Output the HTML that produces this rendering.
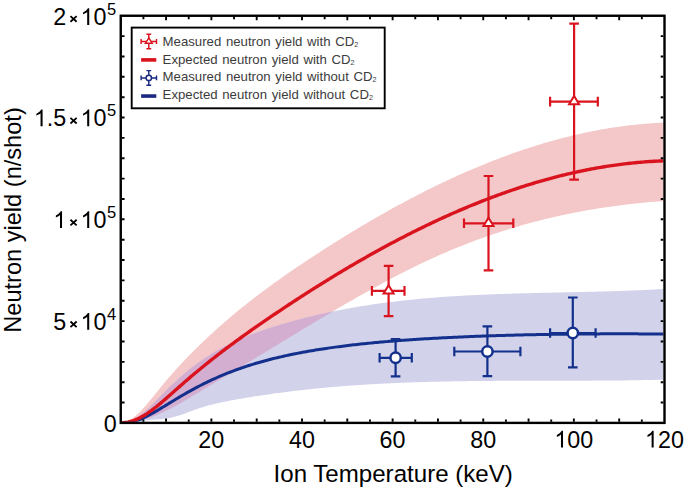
<!DOCTYPE html>
<html><head><meta charset="utf-8"><style>
html,body{margin:0;padding:0;background:#fff;width:685px;height:489px;overflow:hidden}
svg{display:block}
text{font-family:"Liberation Sans",sans-serif}
</style></head><body>
<svg width="685" height="489" viewBox="0 0 685 489"><defs><clipPath id="pc"><rect x="121.9" y="16.9" width="541.4" height="404.9"/></clipPath><clipPath id="rb"><path d="M120.75,422.63 L122.57,422.48 L124.39,422.12 L126.21,421.55 L128.02,420.79 L129.84,419.84 L131.66,418.72 L133.48,417.43 L135.30,416.00 L137.12,414.44 L138.94,412.75 L140.75,410.95 L142.57,409.04 L144.39,407.05 L146.21,404.99 L148.03,402.86 L149.85,400.68 L151.67,398.46 L153.48,396.21 L155.30,393.94 L157.12,391.67 L158.94,389.41 L160.76,387.17 L162.58,384.95 L164.40,382.77 L166.21,380.61 L168.03,378.48 L169.85,376.38 L171.67,374.30 L173.49,372.24 L175.31,370.21 L177.13,368.21 L178.94,366.22 L180.76,364.26 L182.58,362.32 L184.40,360.40 L186.22,358.50 L188.04,356.62 L189.86,354.76 L191.67,352.92 L193.49,351.10 L195.31,349.29 L197.13,347.49 L198.95,345.72 L200.77,343.96 L202.59,342.21 L204.40,340.48 L206.22,338.76 L208.04,337.05 L209.86,335.36 L211.68,333.69 L213.50,332.02 L215.32,330.37 L217.13,328.74 L218.95,327.11 L220.77,325.50 L222.59,323.90 L224.41,322.32 L226.23,320.75 L228.05,319.19 L229.86,317.64 L231.68,316.10 L233.50,314.57 L235.32,313.06 L237.14,311.56 L238.96,310.07 L240.78,308.59 L242.59,307.12 L244.41,305.66 L246.23,304.21 L248.05,302.77 L249.87,301.34 L251.69,299.92 L253.51,298.51 L255.32,297.11 L257.14,295.72 L258.96,294.34 L260.78,292.96 L262.60,291.60 L264.42,290.24 L266.23,288.90 L268.05,287.56 L269.87,286.23 L271.69,284.90 L273.51,283.59 L275.33,282.28 L277.15,280.98 L278.96,279.69 L280.78,278.40 L282.60,277.12 L284.42,275.85 L286.24,274.58 L288.06,273.32 L289.88,272.06 L291.69,270.81 L293.51,269.57 L295.33,268.33 L297.15,267.10 L298.97,265.87 L300.79,264.65 L302.61,263.43 L304.42,262.22 L306.24,261.01 L308.06,259.80 L309.88,258.60 L311.70,257.41 L313.52,256.21 L315.34,255.02 L317.15,253.84 L318.97,252.66 L320.79,251.48 L322.61,250.31 L324.43,249.14 L326.25,247.97 L328.07,246.81 L329.88,245.65 L331.70,244.50 L333.52,243.35 L335.34,242.21 L337.16,241.06 L338.98,239.93 L340.80,238.79 L342.61,237.67 L344.43,236.54 L346.25,235.42 L348.07,234.31 L349.89,233.19 L351.71,232.09 L353.53,230.98 L355.34,229.89 L357.16,228.79 L358.98,227.70 L360.80,226.62 L362.62,225.53 L364.44,224.46 L366.26,223.38 L368.07,222.32 L369.89,221.25 L371.71,220.19 L373.53,219.14 L375.35,218.09 L377.17,217.04 L378.99,216.00 L380.80,214.97 L382.62,213.94 L384.44,212.91 L386.26,211.89 L388.08,210.87 L389.90,209.86 L391.72,208.85 L393.53,207.85 L395.35,206.85 L397.17,205.85 L398.99,204.86 L400.81,203.88 L402.63,202.90 L404.45,201.93 L406.26,200.96 L408.08,199.99 L409.90,199.03 L411.72,198.08 L413.54,197.13 L415.36,196.18 L417.18,195.24 L418.99,194.31 L420.81,193.38 L422.63,192.45 L424.45,191.53 L426.27,190.62 L428.09,189.71 L429.91,188.80 L431.72,187.90 L433.54,187.01 L435.36,186.12 L437.18,185.24 L439.00,184.36 L440.82,183.49 L442.64,182.62 L444.45,181.76 L446.27,180.90 L448.09,180.05 L449.91,179.20 L451.73,178.36 L453.55,177.52 L455.37,176.69 L457.18,175.87 L459.00,175.05 L460.82,174.24 L462.64,173.43 L464.46,172.62 L466.28,171.83 L468.10,171.04 L469.91,170.25 L471.73,169.47 L473.55,168.69 L475.37,167.92 L477.19,167.16 L479.01,166.40 L480.83,165.65 L482.64,164.90 L484.46,164.16 L486.28,163.43 L488.10,162.70 L489.92,161.98 L491.74,161.26 L493.56,160.55 L495.37,159.84 L497.19,159.14 L499.01,158.45 L500.83,157.76 L502.65,157.08 L504.47,156.40 L506.29,155.73 L508.10,155.07 L509.92,154.41 L511.74,153.76 L513.56,153.11 L515.38,152.47 L517.20,151.84 L519.02,151.21 L520.83,150.59 L522.65,149.97 L524.47,149.36 L526.29,148.76 L528.11,148.16 L529.93,147.57 L531.74,146.99 L533.56,146.41 L535.38,145.84 L537.20,145.27 L539.02,144.71 L540.84,144.16 L542.66,143.61 L544.47,143.07 L546.29,142.54 L548.11,142.01 L549.93,141.49 L551.75,140.98 L553.57,140.47 L555.39,139.97 L557.20,139.47 L559.02,138.99 L560.84,138.51 L562.66,138.03 L564.48,137.56 L566.30,137.10 L568.12,136.65 L569.93,136.20 L571.75,135.76 L573.57,135.32 L575.39,134.89 L577.21,134.47 L579.03,134.06 L580.85,133.65 L582.66,133.25 L584.48,132.86 L586.30,132.47 L588.12,132.09 L589.94,131.72 L591.76,131.35 L593.58,130.99 L595.39,130.64 L597.21,130.29 L599.03,129.95 L600.85,129.62 L602.67,129.30 L604.49,128.98 L606.31,128.67 L608.12,128.37 L609.94,128.07 L611.76,127.78 L613.58,127.50 L615.40,127.23 L617.22,126.96 L619.04,126.70 L620.85,126.45 L622.67,126.20 L624.49,125.97 L626.31,125.73 L628.13,125.51 L629.95,125.30 L631.77,125.09 L633.58,124.89 L635.40,124.69 L637.22,124.50 L639.04,124.33 L640.86,124.15 L642.68,123.99 L644.50,123.83 L646.31,123.68 L648.13,123.54 L649.95,123.41 L651.77,123.28 L653.59,123.16 L655.41,123.05 L657.23,122.95 L659.04,122.85 L660.86,122.77 L662.68,122.69 L664.50,122.61 L664.50,201.02 L662.68,201.14 L660.86,201.27 L659.04,201.40 L657.23,201.53 L655.41,201.67 L653.59,201.81 L651.77,201.96 L649.95,202.12 L648.13,202.27 L646.31,202.44 L644.50,202.60 L642.68,202.77 L640.86,202.95 L639.04,203.13 L637.22,203.31 L635.40,203.50 L633.58,203.70 L631.77,203.90 L629.95,204.10 L628.13,204.31 L626.31,204.52 L624.49,204.74 L622.67,204.96 L620.85,205.19 L619.04,205.42 L617.22,205.66 L615.40,205.90 L613.58,206.15 L611.76,206.40 L609.94,206.65 L608.12,206.92 L606.31,207.18 L604.49,207.45 L602.67,207.73 L600.85,208.01 L599.03,208.30 L597.21,208.59 L595.39,208.88 L593.58,209.18 L591.76,209.49 L589.94,209.80 L588.12,210.12 L586.30,210.44 L584.48,210.77 L582.66,211.10 L580.85,211.44 L579.03,211.78 L577.21,212.13 L575.39,212.48 L573.57,212.84 L571.75,213.20 L569.93,213.57 L568.12,213.94 L566.30,214.32 L564.48,214.71 L562.66,215.10 L560.84,215.49 L559.02,215.90 L557.20,216.30 L555.39,216.71 L553.57,217.13 L551.75,217.55 L549.93,217.98 L548.11,218.42 L546.29,218.86 L544.47,219.30 L542.66,219.75 L540.84,220.21 L539.02,220.67 L537.20,221.14 L535.38,221.61 L533.56,222.09 L531.74,222.58 L529.93,223.07 L528.11,223.56 L526.29,224.06 L524.47,224.57 L522.65,225.09 L520.83,225.60 L519.02,226.13 L517.20,226.66 L515.38,227.20 L513.56,227.74 L511.74,228.29 L509.92,228.84 L508.10,229.41 L506.29,229.97 L504.47,230.54 L502.65,231.12 L500.83,231.71 L499.01,232.30 L497.19,232.90 L495.37,233.50 L493.56,234.11 L491.74,234.72 L489.92,235.34 L488.10,235.97 L486.28,236.60 L484.46,237.24 L482.64,237.89 L480.83,238.54 L479.01,239.20 L477.19,239.87 L475.37,240.54 L473.55,241.22 L471.73,241.90 L469.91,242.59 L468.10,243.29 L466.28,243.99 L464.46,244.70 L462.64,245.41 L460.82,246.14 L459.00,246.86 L457.18,247.60 L455.37,248.34 L453.55,249.09 L451.73,249.84 L449.91,250.61 L448.09,251.37 L446.27,252.15 L444.45,252.93 L442.64,253.72 L440.82,254.51 L439.00,255.31 L437.18,256.12 L435.36,256.93 L433.54,257.76 L431.72,258.58 L429.91,259.42 L428.09,260.26 L426.27,261.11 L424.45,261.96 L422.63,262.82 L420.81,263.69 L418.99,264.56 L417.18,265.44 L415.36,266.32 L413.54,267.21 L411.72,268.11 L409.90,269.01 L408.08,269.92 L406.26,270.83 L404.45,271.75 L402.63,272.68 L400.81,273.60 L398.99,274.54 L397.17,275.48 L395.35,276.42 L393.53,277.37 L391.72,278.33 L389.90,279.29 L388.08,280.25 L386.26,281.22 L384.44,282.20 L382.62,283.17 L380.80,284.16 L378.99,285.14 L377.17,286.14 L375.35,287.13 L373.53,288.13 L371.71,289.13 L369.89,290.14 L368.07,291.15 L366.26,292.17 L364.44,293.19 L362.62,294.21 L360.80,295.24 L358.98,296.27 L357.16,297.30 L355.34,298.34 L353.53,299.38 L351.71,300.42 L349.89,301.47 L348.07,302.52 L346.25,303.57 L344.43,304.62 L342.61,305.68 L340.80,306.74 L338.98,307.80 L337.16,308.87 L335.34,309.94 L333.52,311.01 L331.70,312.08 L329.88,313.16 L328.07,314.23 L326.25,315.31 L324.43,316.39 L322.61,317.48 L320.79,318.56 L318.97,319.65 L317.15,320.74 L315.34,321.83 L313.52,322.92 L311.70,324.01 L309.88,325.10 L308.06,326.20 L306.24,327.30 L304.42,328.39 L302.61,329.49 L300.79,330.59 L298.97,331.69 L297.15,332.79 L295.33,333.89 L293.51,335.00 L291.69,336.10 L289.88,337.20 L288.06,338.31 L286.24,339.41 L284.42,340.51 L282.60,341.62 L280.78,342.72 L278.96,343.83 L277.15,344.93 L275.33,346.04 L273.51,347.14 L271.69,348.24 L269.87,349.35 L268.05,350.45 L266.23,351.55 L264.42,352.65 L262.60,353.75 L260.78,354.85 L258.96,355.95 L257.14,357.05 L255.32,358.15 L253.51,359.25 L251.69,360.35 L249.87,361.45 L248.05,362.55 L246.23,363.65 L244.41,364.75 L242.59,365.84 L240.78,366.94 L238.96,368.04 L237.14,369.13 L235.32,370.23 L233.50,371.33 L231.68,372.42 L229.86,373.52 L228.05,374.62 L226.23,375.71 L224.41,376.81 L222.59,377.90 L220.77,379.00 L218.95,380.10 L217.13,381.19 L215.32,382.29 L213.50,383.38 L211.68,384.48 L209.86,385.57 L208.04,386.67 L206.22,387.77 L204.40,388.86 L202.59,389.96 L200.77,391.05 L198.95,392.15 L197.13,393.25 L195.31,394.34 L193.49,395.44 L191.67,396.53 L189.86,397.61 L188.04,398.69 L186.22,399.77 L184.40,400.83 L182.58,401.88 L180.76,402.93 L178.94,403.96 L177.13,404.98 L175.31,405.98 L173.49,406.96 L171.67,407.93 L169.85,408.88 L168.03,409.81 L166.21,410.72 L164.40,411.60 L162.58,412.46 L160.76,413.30 L158.94,414.11 L157.12,414.89 L155.30,415.64 L153.48,416.36 L151.67,417.05 L149.85,417.70 L148.03,418.33 L146.21,418.91 L144.39,419.46 L142.57,419.97 L140.75,420.44 L138.94,420.87 L137.12,421.26 L135.30,421.60 L133.48,421.90 L131.66,422.15 L129.84,422.36 L128.02,422.52 L126.21,422.62 L124.39,422.68 L122.57,422.68 L120.75,422.63 Z"/></clipPath></defs><g clip-path="url(#pc)"><path d="M120.75,422.63 L122.57,422.48 L124.39,422.12 L126.21,421.55 L128.02,420.79 L129.84,419.84 L131.66,418.72 L133.48,417.43 L135.30,416.00 L137.12,414.44 L138.94,412.75 L140.75,410.95 L142.57,409.04 L144.39,407.05 L146.21,404.99 L148.03,402.86 L149.85,400.68 L151.67,398.46 L153.48,396.21 L155.30,393.94 L157.12,391.67 L158.94,389.41 L160.76,387.17 L162.58,384.95 L164.40,382.77 L166.21,380.61 L168.03,378.48 L169.85,376.38 L171.67,374.30 L173.49,372.24 L175.31,370.21 L177.13,368.21 L178.94,366.22 L180.76,364.26 L182.58,362.32 L184.40,360.40 L186.22,358.50 L188.04,356.62 L189.86,354.76 L191.67,352.92 L193.49,351.10 L195.31,349.29 L197.13,347.49 L198.95,345.72 L200.77,343.96 L202.59,342.21 L204.40,340.48 L206.22,338.76 L208.04,337.05 L209.86,335.36 L211.68,333.69 L213.50,332.02 L215.32,330.37 L217.13,328.74 L218.95,327.11 L220.77,325.50 L222.59,323.90 L224.41,322.32 L226.23,320.75 L228.05,319.19 L229.86,317.64 L231.68,316.10 L233.50,314.57 L235.32,313.06 L237.14,311.56 L238.96,310.07 L240.78,308.59 L242.59,307.12 L244.41,305.66 L246.23,304.21 L248.05,302.77 L249.87,301.34 L251.69,299.92 L253.51,298.51 L255.32,297.11 L257.14,295.72 L258.96,294.34 L260.78,292.96 L262.60,291.60 L264.42,290.24 L266.23,288.90 L268.05,287.56 L269.87,286.23 L271.69,284.90 L273.51,283.59 L275.33,282.28 L277.15,280.98 L278.96,279.69 L280.78,278.40 L282.60,277.12 L284.42,275.85 L286.24,274.58 L288.06,273.32 L289.88,272.06 L291.69,270.81 L293.51,269.57 L295.33,268.33 L297.15,267.10 L298.97,265.87 L300.79,264.65 L302.61,263.43 L304.42,262.22 L306.24,261.01 L308.06,259.80 L309.88,258.60 L311.70,257.41 L313.52,256.21 L315.34,255.02 L317.15,253.84 L318.97,252.66 L320.79,251.48 L322.61,250.31 L324.43,249.14 L326.25,247.97 L328.07,246.81 L329.88,245.65 L331.70,244.50 L333.52,243.35 L335.34,242.21 L337.16,241.06 L338.98,239.93 L340.80,238.79 L342.61,237.67 L344.43,236.54 L346.25,235.42 L348.07,234.31 L349.89,233.19 L351.71,232.09 L353.53,230.98 L355.34,229.89 L357.16,228.79 L358.98,227.70 L360.80,226.62 L362.62,225.53 L364.44,224.46 L366.26,223.38 L368.07,222.32 L369.89,221.25 L371.71,220.19 L373.53,219.14 L375.35,218.09 L377.17,217.04 L378.99,216.00 L380.80,214.97 L382.62,213.94 L384.44,212.91 L386.26,211.89 L388.08,210.87 L389.90,209.86 L391.72,208.85 L393.53,207.85 L395.35,206.85 L397.17,205.85 L398.99,204.86 L400.81,203.88 L402.63,202.90 L404.45,201.93 L406.26,200.96 L408.08,199.99 L409.90,199.03 L411.72,198.08 L413.54,197.13 L415.36,196.18 L417.18,195.24 L418.99,194.31 L420.81,193.38 L422.63,192.45 L424.45,191.53 L426.27,190.62 L428.09,189.71 L429.91,188.80 L431.72,187.90 L433.54,187.01 L435.36,186.12 L437.18,185.24 L439.00,184.36 L440.82,183.49 L442.64,182.62 L444.45,181.76 L446.27,180.90 L448.09,180.05 L449.91,179.20 L451.73,178.36 L453.55,177.52 L455.37,176.69 L457.18,175.87 L459.00,175.05 L460.82,174.24 L462.64,173.43 L464.46,172.62 L466.28,171.83 L468.10,171.04 L469.91,170.25 L471.73,169.47 L473.55,168.69 L475.37,167.92 L477.19,167.16 L479.01,166.40 L480.83,165.65 L482.64,164.90 L484.46,164.16 L486.28,163.43 L488.10,162.70 L489.92,161.98 L491.74,161.26 L493.56,160.55 L495.37,159.84 L497.19,159.14 L499.01,158.45 L500.83,157.76 L502.65,157.08 L504.47,156.40 L506.29,155.73 L508.10,155.07 L509.92,154.41 L511.74,153.76 L513.56,153.11 L515.38,152.47 L517.20,151.84 L519.02,151.21 L520.83,150.59 L522.65,149.97 L524.47,149.36 L526.29,148.76 L528.11,148.16 L529.93,147.57 L531.74,146.99 L533.56,146.41 L535.38,145.84 L537.20,145.27 L539.02,144.71 L540.84,144.16 L542.66,143.61 L544.47,143.07 L546.29,142.54 L548.11,142.01 L549.93,141.49 L551.75,140.98 L553.57,140.47 L555.39,139.97 L557.20,139.47 L559.02,138.99 L560.84,138.51 L562.66,138.03 L564.48,137.56 L566.30,137.10 L568.12,136.65 L569.93,136.20 L571.75,135.76 L573.57,135.32 L575.39,134.89 L577.21,134.47 L579.03,134.06 L580.85,133.65 L582.66,133.25 L584.48,132.86 L586.30,132.47 L588.12,132.09 L589.94,131.72 L591.76,131.35 L593.58,130.99 L595.39,130.64 L597.21,130.29 L599.03,129.95 L600.85,129.62 L602.67,129.30 L604.49,128.98 L606.31,128.67 L608.12,128.37 L609.94,128.07 L611.76,127.78 L613.58,127.50 L615.40,127.23 L617.22,126.96 L619.04,126.70 L620.85,126.45 L622.67,126.20 L624.49,125.97 L626.31,125.73 L628.13,125.51 L629.95,125.30 L631.77,125.09 L633.58,124.89 L635.40,124.69 L637.22,124.50 L639.04,124.33 L640.86,124.15 L642.68,123.99 L644.50,123.83 L646.31,123.68 L648.13,123.54 L649.95,123.41 L651.77,123.28 L653.59,123.16 L655.41,123.05 L657.23,122.95 L659.04,122.85 L660.86,122.77 L662.68,122.69 L664.50,122.61 L664.50,201.02 L662.68,201.14 L660.86,201.27 L659.04,201.40 L657.23,201.53 L655.41,201.67 L653.59,201.81 L651.77,201.96 L649.95,202.12 L648.13,202.27 L646.31,202.44 L644.50,202.60 L642.68,202.77 L640.86,202.95 L639.04,203.13 L637.22,203.31 L635.40,203.50 L633.58,203.70 L631.77,203.90 L629.95,204.10 L628.13,204.31 L626.31,204.52 L624.49,204.74 L622.67,204.96 L620.85,205.19 L619.04,205.42 L617.22,205.66 L615.40,205.90 L613.58,206.15 L611.76,206.40 L609.94,206.65 L608.12,206.92 L606.31,207.18 L604.49,207.45 L602.67,207.73 L600.85,208.01 L599.03,208.30 L597.21,208.59 L595.39,208.88 L593.58,209.18 L591.76,209.49 L589.94,209.80 L588.12,210.12 L586.30,210.44 L584.48,210.77 L582.66,211.10 L580.85,211.44 L579.03,211.78 L577.21,212.13 L575.39,212.48 L573.57,212.84 L571.75,213.20 L569.93,213.57 L568.12,213.94 L566.30,214.32 L564.48,214.71 L562.66,215.10 L560.84,215.49 L559.02,215.90 L557.20,216.30 L555.39,216.71 L553.57,217.13 L551.75,217.55 L549.93,217.98 L548.11,218.42 L546.29,218.86 L544.47,219.30 L542.66,219.75 L540.84,220.21 L539.02,220.67 L537.20,221.14 L535.38,221.61 L533.56,222.09 L531.74,222.58 L529.93,223.07 L528.11,223.56 L526.29,224.06 L524.47,224.57 L522.65,225.09 L520.83,225.60 L519.02,226.13 L517.20,226.66 L515.38,227.20 L513.56,227.74 L511.74,228.29 L509.92,228.84 L508.10,229.41 L506.29,229.97 L504.47,230.54 L502.65,231.12 L500.83,231.71 L499.01,232.30 L497.19,232.90 L495.37,233.50 L493.56,234.11 L491.74,234.72 L489.92,235.34 L488.10,235.97 L486.28,236.60 L484.46,237.24 L482.64,237.89 L480.83,238.54 L479.01,239.20 L477.19,239.87 L475.37,240.54 L473.55,241.22 L471.73,241.90 L469.91,242.59 L468.10,243.29 L466.28,243.99 L464.46,244.70 L462.64,245.41 L460.82,246.14 L459.00,246.86 L457.18,247.60 L455.37,248.34 L453.55,249.09 L451.73,249.84 L449.91,250.61 L448.09,251.37 L446.27,252.15 L444.45,252.93 L442.64,253.72 L440.82,254.51 L439.00,255.31 L437.18,256.12 L435.36,256.93 L433.54,257.76 L431.72,258.58 L429.91,259.42 L428.09,260.26 L426.27,261.11 L424.45,261.96 L422.63,262.82 L420.81,263.69 L418.99,264.56 L417.18,265.44 L415.36,266.32 L413.54,267.21 L411.72,268.11 L409.90,269.01 L408.08,269.92 L406.26,270.83 L404.45,271.75 L402.63,272.68 L400.81,273.60 L398.99,274.54 L397.17,275.48 L395.35,276.42 L393.53,277.37 L391.72,278.33 L389.90,279.29 L388.08,280.25 L386.26,281.22 L384.44,282.20 L382.62,283.17 L380.80,284.16 L378.99,285.14 L377.17,286.14 L375.35,287.13 L373.53,288.13 L371.71,289.13 L369.89,290.14 L368.07,291.15 L366.26,292.17 L364.44,293.19 L362.62,294.21 L360.80,295.24 L358.98,296.27 L357.16,297.30 L355.34,298.34 L353.53,299.38 L351.71,300.42 L349.89,301.47 L348.07,302.52 L346.25,303.57 L344.43,304.62 L342.61,305.68 L340.80,306.74 L338.98,307.80 L337.16,308.87 L335.34,309.94 L333.52,311.01 L331.70,312.08 L329.88,313.16 L328.07,314.23 L326.25,315.31 L324.43,316.39 L322.61,317.48 L320.79,318.56 L318.97,319.65 L317.15,320.74 L315.34,321.83 L313.52,322.92 L311.70,324.01 L309.88,325.10 L308.06,326.20 L306.24,327.30 L304.42,328.39 L302.61,329.49 L300.79,330.59 L298.97,331.69 L297.15,332.79 L295.33,333.89 L293.51,335.00 L291.69,336.10 L289.88,337.20 L288.06,338.31 L286.24,339.41 L284.42,340.51 L282.60,341.62 L280.78,342.72 L278.96,343.83 L277.15,344.93 L275.33,346.04 L273.51,347.14 L271.69,348.24 L269.87,349.35 L268.05,350.45 L266.23,351.55 L264.42,352.65 L262.60,353.75 L260.78,354.85 L258.96,355.95 L257.14,357.05 L255.32,358.15 L253.51,359.25 L251.69,360.35 L249.87,361.45 L248.05,362.55 L246.23,363.65 L244.41,364.75 L242.59,365.84 L240.78,366.94 L238.96,368.04 L237.14,369.13 L235.32,370.23 L233.50,371.33 L231.68,372.42 L229.86,373.52 L228.05,374.62 L226.23,375.71 L224.41,376.81 L222.59,377.90 L220.77,379.00 L218.95,380.10 L217.13,381.19 L215.32,382.29 L213.50,383.38 L211.68,384.48 L209.86,385.57 L208.04,386.67 L206.22,387.77 L204.40,388.86 L202.59,389.96 L200.77,391.05 L198.95,392.15 L197.13,393.25 L195.31,394.34 L193.49,395.44 L191.67,396.53 L189.86,397.61 L188.04,398.69 L186.22,399.77 L184.40,400.83 L182.58,401.88 L180.76,402.93 L178.94,403.96 L177.13,404.98 L175.31,405.98 L173.49,406.96 L171.67,407.93 L169.85,408.88 L168.03,409.81 L166.21,410.72 L164.40,411.60 L162.58,412.46 L160.76,413.30 L158.94,414.11 L157.12,414.89 L155.30,415.64 L153.48,416.36 L151.67,417.05 L149.85,417.70 L148.03,418.33 L146.21,418.91 L144.39,419.46 L142.57,419.97 L140.75,420.44 L138.94,420.87 L137.12,421.26 L135.30,421.60 L133.48,421.90 L131.66,422.15 L129.84,422.36 L128.02,422.52 L126.21,422.62 L124.39,422.68 L122.57,422.68 L120.75,422.63 Z" fill="#f4c7c8"/><path d="M120.75,422.62 L122.57,422.67 L124.39,422.54 L126.21,422.23 L128.02,421.77 L129.84,421.15 L131.66,420.39 L133.48,419.49 L135.30,418.47 L137.12,417.33 L138.94,416.08 L140.75,414.73 L142.57,413.28 L144.39,411.76 L146.21,410.17 L148.03,408.51 L149.85,406.79 L151.67,405.03 L153.48,403.23 L155.30,401.41 L157.12,399.56 L158.94,397.71 L160.76,395.85 L162.58,394.00 L164.40,392.17 L166.21,390.36 L168.03,388.57 L169.85,386.81 L171.67,385.07 L173.49,383.35 L175.31,381.66 L177.13,380.00 L178.94,378.36 L180.76,376.75 L182.58,375.17 L184.40,373.61 L186.22,372.09 L188.04,370.59 L189.86,369.12 L191.67,367.69 L193.49,366.28 L195.31,364.91 L197.13,363.56 L198.95,362.25 L200.77,360.96 L202.59,359.70 L204.40,358.47 L206.22,357.26 L208.04,356.08 L209.86,354.93 L211.68,353.80 L213.50,352.70 L215.32,351.62 L217.13,350.57 L218.95,349.54 L220.77,348.53 L222.59,347.54 L224.41,346.58 L226.23,345.63 L228.05,344.71 L229.86,343.81 L231.68,342.92 L233.50,342.06 L235.32,341.21 L237.14,340.39 L238.96,339.58 L240.78,338.78 L242.59,338.01 L244.41,337.25 L246.23,336.50 L248.05,335.77 L249.87,335.06 L251.69,334.35 L253.51,333.67 L255.32,332.99 L257.14,332.33 L258.96,331.67 L260.78,331.03 L262.60,330.40 L264.42,329.79 L266.23,329.18 L268.05,328.58 L269.87,327.98 L271.69,327.40 L273.51,326.82 L275.33,326.26 L277.15,325.69 L278.96,325.14 L280.78,324.59 L282.60,324.05 L284.42,323.51 L286.24,322.98 L288.06,322.46 L289.88,321.94 L291.69,321.43 L293.51,320.93 L295.33,320.43 L297.15,319.94 L298.97,319.45 L300.79,318.97 L302.61,318.50 L304.42,318.03 L306.24,317.57 L308.06,317.12 L309.88,316.67 L311.70,316.23 L313.52,315.79 L315.34,315.36 L317.15,314.93 L318.97,314.51 L320.79,314.10 L322.61,313.69 L324.43,313.28 L326.25,312.89 L328.07,312.49 L329.88,312.11 L331.70,311.72 L333.52,311.35 L335.34,310.98 L337.16,310.61 L338.98,310.25 L340.80,309.90 L342.61,309.55 L344.43,309.20 L346.25,308.86 L348.07,308.53 L349.89,308.20 L351.71,307.87 L353.53,307.55 L355.34,307.24 L357.16,306.93 L358.98,306.62 L360.80,306.32 L362.62,306.02 L364.44,305.73 L366.26,305.44 L368.07,305.16 L369.89,304.88 L371.71,304.61 L373.53,304.34 L375.35,304.08 L377.17,303.82 L378.99,303.56 L380.80,303.31 L382.62,303.06 L384.44,302.82 L386.26,302.58 L388.08,302.34 L389.90,302.11 L391.72,301.88 L393.53,301.66 L395.35,301.44 L397.17,301.23 L398.99,301.02 L400.81,300.81 L402.63,300.60 L404.45,300.40 L406.26,300.21 L408.08,300.01 L409.90,299.83 L411.72,299.64 L413.54,299.46 L415.36,299.28 L417.18,299.10 L418.99,298.93 L420.81,298.76 L422.63,298.60 L424.45,298.43 L426.27,298.28 L428.09,298.12 L429.91,297.97 L431.72,297.82 L433.54,297.67 L435.36,297.53 L437.18,297.39 L439.00,297.25 L440.82,297.11 L442.64,296.98 L444.45,296.85 L446.27,296.73 L448.09,296.60 L449.91,296.48 L451.73,296.36 L453.55,296.25 L455.37,296.13 L457.18,296.02 L459.00,295.91 L460.82,295.81 L462.64,295.70 L464.46,295.60 L466.28,295.50 L468.10,295.41 L469.91,295.31 L471.73,295.22 L473.55,295.13 L475.37,295.04 L477.19,294.95 L479.01,294.87 L480.83,294.79 L482.64,294.71 L484.46,294.63 L486.28,294.55 L488.10,294.47 L489.92,294.40 L491.74,294.33 L493.56,294.26 L495.37,294.19 L497.19,294.12 L499.01,294.06 L500.83,293.99 L502.65,293.93 L504.47,293.87 L506.29,293.81 L508.10,293.75 L509.92,293.69 L511.74,293.64 L513.56,293.58 L515.38,293.53 L517.20,293.48 L519.02,293.43 L520.83,293.37 L522.65,293.32 L524.47,293.28 L526.29,293.23 L528.11,293.18 L529.93,293.13 L531.74,293.09 L533.56,293.04 L535.38,293.00 L537.20,292.96 L539.02,292.91 L540.84,292.87 L542.66,292.83 L544.47,292.79 L546.29,292.75 L548.11,292.71 L549.93,292.67 L551.75,292.63 L553.57,292.59 L555.39,292.55 L557.20,292.51 L559.02,292.47 L560.84,292.43 L562.66,292.39 L564.48,292.35 L566.30,292.31 L568.12,292.27 L569.93,292.23 L571.75,292.19 L573.57,292.15 L575.39,292.11 L577.21,292.07 L579.03,292.03 L580.85,291.99 L582.66,291.95 L584.48,291.91 L586.30,291.86 L588.12,291.82 L589.94,291.78 L591.76,291.73 L593.58,291.69 L595.39,291.64 L597.21,291.59 L599.03,291.55 L600.85,291.50 L602.67,291.45 L604.49,291.40 L606.31,291.35 L608.12,291.30 L609.94,291.24 L611.76,291.19 L613.58,291.13 L615.40,291.08 L617.22,291.02 L619.04,290.96 L620.85,290.90 L622.67,290.84 L624.49,290.77 L626.31,290.71 L628.13,290.64 L629.95,290.57 L631.77,290.50 L633.58,290.43 L635.40,290.36 L637.22,290.29 L639.04,290.21 L640.86,290.13 L642.68,290.05 L644.50,289.97 L646.31,289.89 L648.13,289.80 L649.95,289.72 L651.77,289.63 L653.59,289.53 L655.41,289.44 L657.23,289.34 L659.04,289.25 L660.86,289.15 L662.68,289.04 L664.50,288.94 L664.50,379.66 L662.68,379.70 L660.86,379.75 L659.04,379.79 L657.23,379.83 L655.41,379.87 L653.59,379.91 L651.77,379.95 L649.95,379.99 L648.13,380.02 L646.31,380.06 L644.50,380.09 L642.68,380.12 L640.86,380.15 L639.04,380.18 L637.22,380.21 L635.40,380.24 L633.58,380.26 L631.77,380.29 L629.95,380.31 L628.13,380.34 L626.31,380.36 L624.49,380.38 L622.67,380.40 L620.85,380.42 L619.04,380.44 L617.22,380.46 L615.40,380.47 L613.58,380.49 L611.76,380.50 L609.94,380.52 L608.12,380.53 L606.31,380.55 L604.49,380.56 L602.67,380.57 L600.85,380.58 L599.03,380.59 L597.21,380.60 L595.39,380.61 L593.58,380.62 L591.76,380.63 L589.94,380.64 L588.12,380.64 L586.30,380.65 L584.48,380.66 L582.66,380.66 L580.85,380.67 L579.03,380.67 L577.21,380.68 L575.39,380.68 L573.57,380.69 L571.75,380.69 L569.93,380.69 L568.12,380.70 L566.30,380.70 L564.48,380.70 L562.66,380.71 L560.84,380.71 L559.02,380.71 L557.20,380.71 L555.39,380.71 L553.57,380.72 L551.75,380.72 L549.93,380.72 L548.11,380.72 L546.29,380.72 L544.47,380.73 L542.66,380.73 L540.84,380.73 L539.02,380.73 L537.20,380.73 L535.38,380.74 L533.56,380.74 L531.74,380.74 L529.93,380.74 L528.11,380.75 L526.29,380.75 L524.47,380.75 L522.65,380.76 L520.83,380.76 L519.02,380.77 L517.20,380.77 L515.38,380.78 L513.56,380.78 L511.74,380.79 L509.92,380.79 L508.10,380.80 L506.29,380.81 L504.47,380.82 L502.65,380.83 L500.83,380.83 L499.01,380.84 L497.19,380.85 L495.37,380.87 L493.56,380.88 L491.74,380.89 L489.92,380.90 L488.10,380.92 L486.28,380.93 L484.46,380.94 L482.64,380.96 L480.83,380.98 L479.01,380.99 L477.19,381.01 L475.37,381.03 L473.55,381.05 L471.73,381.07 L469.91,381.09 L468.10,381.12 L466.28,381.14 L464.46,381.17 L462.64,381.19 L460.82,381.22 L459.00,381.25 L457.18,381.27 L455.37,381.30 L453.55,381.34 L451.73,381.37 L449.91,381.40 L448.09,381.44 L446.27,381.47 L444.45,381.51 L442.64,381.55 L440.82,381.59 L439.00,381.63 L437.18,381.67 L435.36,381.71 L433.54,381.76 L431.72,381.80 L429.91,381.85 L428.09,381.90 L426.27,381.95 L424.45,382.00 L422.63,382.06 L420.81,382.11 L418.99,382.17 L417.18,382.23 L415.36,382.29 L413.54,382.35 L411.72,382.41 L409.90,382.48 L408.08,382.54 L406.26,382.61 L404.45,382.68 L402.63,382.75 L400.81,382.82 L398.99,382.90 L397.17,382.98 L395.35,383.05 L393.53,383.13 L391.72,383.22 L389.90,383.30 L388.08,383.39 L386.26,383.48 L384.44,383.57 L382.62,383.66 L380.80,383.75 L378.99,383.85 L377.17,383.94 L375.35,384.05 L373.53,384.15 L371.71,384.25 L369.89,384.36 L368.07,384.47 L366.26,384.58 L364.44,384.69 L362.62,384.81 L360.80,384.92 L358.98,385.04 L357.16,385.16 L355.34,385.29 L353.53,385.42 L351.71,385.54 L349.89,385.68 L348.07,385.81 L346.25,385.95 L344.43,386.08 L342.61,386.22 L340.80,386.37 L338.98,386.51 L337.16,386.66 L335.34,386.81 L333.52,386.97 L331.70,387.12 L329.88,387.28 L328.07,387.44 L326.25,387.61 L324.43,387.78 L322.61,387.94 L320.79,388.12 L318.97,388.29 L317.15,388.47 L315.34,388.65 L313.52,388.83 L311.70,389.02 L309.88,389.21 L308.06,389.40 L306.24,389.60 L304.42,389.79 L302.61,389.99 L300.79,390.20 L298.97,390.40 L297.15,390.61 L295.33,390.83 L293.51,391.04 L291.69,391.26 L289.88,391.48 L288.06,391.71 L286.24,391.94 L284.42,392.17 L282.60,392.40 L280.78,392.64 L278.96,392.88 L277.15,393.12 L275.33,393.37 L273.51,393.62 L271.69,393.88 L269.87,394.13 L268.05,394.39 L266.23,394.66 L264.42,394.93 L262.60,395.20 L260.78,395.47 L258.96,395.75 L257.14,396.03 L255.32,396.32 L253.51,396.60 L251.69,396.90 L249.87,397.19 L248.05,397.49 L246.23,397.79 L244.41,398.10 L242.59,398.41 L240.78,398.72 L238.96,399.04 L237.14,399.36 L235.32,399.69 L233.50,400.02 L231.68,400.35 L229.86,400.69 L228.05,401.03 L226.23,401.39 L224.41,401.75 L222.59,402.12 L220.77,402.51 L218.95,402.90 L217.13,403.31 L215.32,403.73 L213.50,404.17 L211.68,404.63 L209.86,405.10 L208.04,405.59 L206.22,406.10 L204.40,406.63 L202.59,407.18 L200.77,407.75 L198.95,408.35 L197.13,408.97 L195.31,409.62 L193.49,410.28 L191.67,410.95 L189.86,411.62 L188.04,412.30 L186.22,412.97 L184.40,413.63 L182.58,414.28 L180.76,414.90 L178.94,415.50 L177.13,416.07 L175.31,416.60 L173.49,417.09 L171.67,417.54 L169.85,417.93 L168.03,418.26 L166.21,418.55 L164.40,418.79 L162.58,419.00 L160.76,419.17 L158.94,419.33 L157.12,419.46 L155.30,419.59 L153.48,419.72 L151.67,419.85 L149.85,419.99 L148.03,420.15 L146.21,420.32 L144.39,420.50 L142.57,420.69 L140.75,420.89 L138.94,421.09 L137.12,421.29 L135.30,421.48 L133.48,421.67 L131.66,421.85 L129.84,422.02 L128.02,422.18 L126.21,422.32 L124.39,422.44 L122.57,422.53 L120.75,422.61 Z" fill="#d2d2eb"/><path d="M120.75,422.62 L122.57,422.67 L124.39,422.54 L126.21,422.23 L128.02,421.77 L129.84,421.15 L131.66,420.39 L133.48,419.49 L135.30,418.47 L137.12,417.33 L138.94,416.08 L140.75,414.73 L142.57,413.28 L144.39,411.76 L146.21,410.17 L148.03,408.51 L149.85,406.79 L151.67,405.03 L153.48,403.23 L155.30,401.41 L157.12,399.56 L158.94,397.71 L160.76,395.85 L162.58,394.00 L164.40,392.17 L166.21,390.36 L168.03,388.57 L169.85,386.81 L171.67,385.07 L173.49,383.35 L175.31,381.66 L177.13,380.00 L178.94,378.36 L180.76,376.75 L182.58,375.17 L184.40,373.61 L186.22,372.09 L188.04,370.59 L189.86,369.12 L191.67,367.69 L193.49,366.28 L195.31,364.91 L197.13,363.56 L198.95,362.25 L200.77,360.96 L202.59,359.70 L204.40,358.47 L206.22,357.26 L208.04,356.08 L209.86,354.93 L211.68,353.80 L213.50,352.70 L215.32,351.62 L217.13,350.57 L218.95,349.54 L220.77,348.53 L222.59,347.54 L224.41,346.58 L226.23,345.63 L228.05,344.71 L229.86,343.81 L231.68,342.92 L233.50,342.06 L235.32,341.21 L237.14,340.39 L238.96,339.58 L240.78,338.78 L242.59,338.01 L244.41,337.25 L246.23,336.50 L248.05,335.77 L249.87,335.06 L251.69,334.35 L253.51,333.67 L255.32,332.99 L257.14,332.33 L258.96,331.67 L260.78,331.03 L262.60,330.40 L264.42,329.79 L266.23,329.18 L268.05,328.58 L269.87,327.98 L271.69,327.40 L273.51,326.82 L275.33,326.26 L277.15,325.69 L278.96,325.14 L280.78,324.59 L282.60,324.05 L284.42,323.51 L286.24,322.98 L288.06,322.46 L289.88,321.94 L291.69,321.43 L293.51,320.93 L295.33,320.43 L297.15,319.94 L298.97,319.45 L300.79,318.97 L302.61,318.50 L304.42,318.03 L306.24,317.57 L308.06,317.12 L309.88,316.67 L311.70,316.23 L313.52,315.79 L315.34,315.36 L317.15,314.93 L318.97,314.51 L320.79,314.10 L322.61,313.69 L324.43,313.28 L326.25,312.89 L328.07,312.49 L329.88,312.11 L331.70,311.72 L333.52,311.35 L335.34,310.98 L337.16,310.61 L338.98,310.25 L340.80,309.90 L342.61,309.55 L344.43,309.20 L346.25,308.86 L348.07,308.53 L349.89,308.20 L351.71,307.87 L353.53,307.55 L355.34,307.24 L357.16,306.93 L358.98,306.62 L360.80,306.32 L362.62,306.02 L364.44,305.73 L366.26,305.44 L368.07,305.16 L369.89,304.88 L371.71,304.61 L373.53,304.34 L375.35,304.08 L377.17,303.82 L378.99,303.56 L380.80,303.31 L382.62,303.06 L384.44,302.82 L386.26,302.58 L388.08,302.34 L389.90,302.11 L391.72,301.88 L393.53,301.66 L395.35,301.44 L397.17,301.23 L398.99,301.02 L400.81,300.81 L402.63,300.60 L404.45,300.40 L406.26,300.21 L408.08,300.01 L409.90,299.83 L411.72,299.64 L413.54,299.46 L415.36,299.28 L417.18,299.10 L418.99,298.93 L420.81,298.76 L422.63,298.60 L424.45,298.43 L426.27,298.28 L428.09,298.12 L429.91,297.97 L431.72,297.82 L433.54,297.67 L435.36,297.53 L437.18,297.39 L439.00,297.25 L440.82,297.11 L442.64,296.98 L444.45,296.85 L446.27,296.73 L448.09,296.60 L449.91,296.48 L451.73,296.36 L453.55,296.25 L455.37,296.13 L457.18,296.02 L459.00,295.91 L460.82,295.81 L462.64,295.70 L464.46,295.60 L466.28,295.50 L468.10,295.41 L469.91,295.31 L471.73,295.22 L473.55,295.13 L475.37,295.04 L477.19,294.95 L479.01,294.87 L480.83,294.79 L482.64,294.71 L484.46,294.63 L486.28,294.55 L488.10,294.47 L489.92,294.40 L491.74,294.33 L493.56,294.26 L495.37,294.19 L497.19,294.12 L499.01,294.06 L500.83,293.99 L502.65,293.93 L504.47,293.87 L506.29,293.81 L508.10,293.75 L509.92,293.69 L511.74,293.64 L513.56,293.58 L515.38,293.53 L517.20,293.48 L519.02,293.43 L520.83,293.37 L522.65,293.32 L524.47,293.28 L526.29,293.23 L528.11,293.18 L529.93,293.13 L531.74,293.09 L533.56,293.04 L535.38,293.00 L537.20,292.96 L539.02,292.91 L540.84,292.87 L542.66,292.83 L544.47,292.79 L546.29,292.75 L548.11,292.71 L549.93,292.67 L551.75,292.63 L553.57,292.59 L555.39,292.55 L557.20,292.51 L559.02,292.47 L560.84,292.43 L562.66,292.39 L564.48,292.35 L566.30,292.31 L568.12,292.27 L569.93,292.23 L571.75,292.19 L573.57,292.15 L575.39,292.11 L577.21,292.07 L579.03,292.03 L580.85,291.99 L582.66,291.95 L584.48,291.91 L586.30,291.86 L588.12,291.82 L589.94,291.78 L591.76,291.73 L593.58,291.69 L595.39,291.64 L597.21,291.59 L599.03,291.55 L600.85,291.50 L602.67,291.45 L604.49,291.40 L606.31,291.35 L608.12,291.30 L609.94,291.24 L611.76,291.19 L613.58,291.13 L615.40,291.08 L617.22,291.02 L619.04,290.96 L620.85,290.90 L622.67,290.84 L624.49,290.77 L626.31,290.71 L628.13,290.64 L629.95,290.57 L631.77,290.50 L633.58,290.43 L635.40,290.36 L637.22,290.29 L639.04,290.21 L640.86,290.13 L642.68,290.05 L644.50,289.97 L646.31,289.89 L648.13,289.80 L649.95,289.72 L651.77,289.63 L653.59,289.53 L655.41,289.44 L657.23,289.34 L659.04,289.25 L660.86,289.15 L662.68,289.04 L664.50,288.94 L664.50,379.66 L662.68,379.70 L660.86,379.75 L659.04,379.79 L657.23,379.83 L655.41,379.87 L653.59,379.91 L651.77,379.95 L649.95,379.99 L648.13,380.02 L646.31,380.06 L644.50,380.09 L642.68,380.12 L640.86,380.15 L639.04,380.18 L637.22,380.21 L635.40,380.24 L633.58,380.26 L631.77,380.29 L629.95,380.31 L628.13,380.34 L626.31,380.36 L624.49,380.38 L622.67,380.40 L620.85,380.42 L619.04,380.44 L617.22,380.46 L615.40,380.47 L613.58,380.49 L611.76,380.50 L609.94,380.52 L608.12,380.53 L606.31,380.55 L604.49,380.56 L602.67,380.57 L600.85,380.58 L599.03,380.59 L597.21,380.60 L595.39,380.61 L593.58,380.62 L591.76,380.63 L589.94,380.64 L588.12,380.64 L586.30,380.65 L584.48,380.66 L582.66,380.66 L580.85,380.67 L579.03,380.67 L577.21,380.68 L575.39,380.68 L573.57,380.69 L571.75,380.69 L569.93,380.69 L568.12,380.70 L566.30,380.70 L564.48,380.70 L562.66,380.71 L560.84,380.71 L559.02,380.71 L557.20,380.71 L555.39,380.71 L553.57,380.72 L551.75,380.72 L549.93,380.72 L548.11,380.72 L546.29,380.72 L544.47,380.73 L542.66,380.73 L540.84,380.73 L539.02,380.73 L537.20,380.73 L535.38,380.74 L533.56,380.74 L531.74,380.74 L529.93,380.74 L528.11,380.75 L526.29,380.75 L524.47,380.75 L522.65,380.76 L520.83,380.76 L519.02,380.77 L517.20,380.77 L515.38,380.78 L513.56,380.78 L511.74,380.79 L509.92,380.79 L508.10,380.80 L506.29,380.81 L504.47,380.82 L502.65,380.83 L500.83,380.83 L499.01,380.84 L497.19,380.85 L495.37,380.87 L493.56,380.88 L491.74,380.89 L489.92,380.90 L488.10,380.92 L486.28,380.93 L484.46,380.94 L482.64,380.96 L480.83,380.98 L479.01,380.99 L477.19,381.01 L475.37,381.03 L473.55,381.05 L471.73,381.07 L469.91,381.09 L468.10,381.12 L466.28,381.14 L464.46,381.17 L462.64,381.19 L460.82,381.22 L459.00,381.25 L457.18,381.27 L455.37,381.30 L453.55,381.34 L451.73,381.37 L449.91,381.40 L448.09,381.44 L446.27,381.47 L444.45,381.51 L442.64,381.55 L440.82,381.59 L439.00,381.63 L437.18,381.67 L435.36,381.71 L433.54,381.76 L431.72,381.80 L429.91,381.85 L428.09,381.90 L426.27,381.95 L424.45,382.00 L422.63,382.06 L420.81,382.11 L418.99,382.17 L417.18,382.23 L415.36,382.29 L413.54,382.35 L411.72,382.41 L409.90,382.48 L408.08,382.54 L406.26,382.61 L404.45,382.68 L402.63,382.75 L400.81,382.82 L398.99,382.90 L397.17,382.98 L395.35,383.05 L393.53,383.13 L391.72,383.22 L389.90,383.30 L388.08,383.39 L386.26,383.48 L384.44,383.57 L382.62,383.66 L380.80,383.75 L378.99,383.85 L377.17,383.94 L375.35,384.05 L373.53,384.15 L371.71,384.25 L369.89,384.36 L368.07,384.47 L366.26,384.58 L364.44,384.69 L362.62,384.81 L360.80,384.92 L358.98,385.04 L357.16,385.16 L355.34,385.29 L353.53,385.42 L351.71,385.54 L349.89,385.68 L348.07,385.81 L346.25,385.95 L344.43,386.08 L342.61,386.22 L340.80,386.37 L338.98,386.51 L337.16,386.66 L335.34,386.81 L333.52,386.97 L331.70,387.12 L329.88,387.28 L328.07,387.44 L326.25,387.61 L324.43,387.78 L322.61,387.94 L320.79,388.12 L318.97,388.29 L317.15,388.47 L315.34,388.65 L313.52,388.83 L311.70,389.02 L309.88,389.21 L308.06,389.40 L306.24,389.60 L304.42,389.79 L302.61,389.99 L300.79,390.20 L298.97,390.40 L297.15,390.61 L295.33,390.83 L293.51,391.04 L291.69,391.26 L289.88,391.48 L288.06,391.71 L286.24,391.94 L284.42,392.17 L282.60,392.40 L280.78,392.64 L278.96,392.88 L277.15,393.12 L275.33,393.37 L273.51,393.62 L271.69,393.88 L269.87,394.13 L268.05,394.39 L266.23,394.66 L264.42,394.93 L262.60,395.20 L260.78,395.47 L258.96,395.75 L257.14,396.03 L255.32,396.32 L253.51,396.60 L251.69,396.90 L249.87,397.19 L248.05,397.49 L246.23,397.79 L244.41,398.10 L242.59,398.41 L240.78,398.72 L238.96,399.04 L237.14,399.36 L235.32,399.69 L233.50,400.02 L231.68,400.35 L229.86,400.69 L228.05,401.03 L226.23,401.39 L224.41,401.75 L222.59,402.12 L220.77,402.51 L218.95,402.90 L217.13,403.31 L215.32,403.73 L213.50,404.17 L211.68,404.63 L209.86,405.10 L208.04,405.59 L206.22,406.10 L204.40,406.63 L202.59,407.18 L200.77,407.75 L198.95,408.35 L197.13,408.97 L195.31,409.62 L193.49,410.28 L191.67,410.95 L189.86,411.62 L188.04,412.30 L186.22,412.97 L184.40,413.63 L182.58,414.28 L180.76,414.90 L178.94,415.50 L177.13,416.07 L175.31,416.60 L173.49,417.09 L171.67,417.54 L169.85,417.93 L168.03,418.26 L166.21,418.55 L164.40,418.79 L162.58,419.00 L160.76,419.17 L158.94,419.33 L157.12,419.46 L155.30,419.59 L153.48,419.72 L151.67,419.85 L149.85,419.99 L148.03,420.15 L146.21,420.32 L144.39,420.50 L142.57,420.69 L140.75,420.89 L138.94,421.09 L137.12,421.29 L135.30,421.48 L133.48,421.67 L131.66,421.85 L129.84,422.02 L128.02,422.18 L126.21,422.32 L124.39,422.44 L122.57,422.53 L120.75,422.61 Z" fill="#d4aed0" clip-path="url(#rb)"/><path d="M120.75,422.54 L122.57,422.55 L124.39,422.54 L126.21,422.48 L128.02,422.34 L129.84,422.12 L131.66,421.81 L133.48,421.41 L135.30,420.93 L137.12,420.37 L138.94,419.73 L140.75,419.03 L142.57,418.26 L144.39,417.44 L146.21,416.56 L148.03,415.65 L149.85,414.69 L151.67,413.70 L153.48,412.68 L155.30,411.64 L157.12,410.58 L158.94,409.50 L160.76,408.41 L162.58,407.32 L164.40,406.21 L166.21,405.10 L168.03,403.99 L169.85,402.88 L171.67,401.77 L173.49,400.66 L175.31,399.56 L177.13,398.47 L178.94,397.39 L180.76,396.31 L182.58,395.25 L184.40,394.19 L186.22,393.15 L188.04,392.12 L189.86,391.10 L191.67,390.09 L193.49,389.10 L195.31,388.12 L197.13,387.16 L198.95,386.21 L200.77,385.27 L202.59,384.35 L204.40,383.44 L206.22,382.55 L208.04,381.67 L209.86,380.81 L211.68,379.96 L213.50,379.12 L215.32,378.30 L217.13,377.50 L218.95,376.70 L220.77,375.92 L222.59,375.16 L224.41,374.41 L226.23,373.67 L228.05,372.94 L229.86,372.23 L231.68,371.53 L233.50,370.85 L235.32,370.17 L237.14,369.51 L238.96,368.86 L240.78,368.23 L242.59,367.60 L244.41,366.99 L246.23,366.39 L248.05,365.80 L249.87,365.21 L251.69,364.65 L253.51,364.09 L255.32,363.54 L257.14,363.00 L258.96,362.47 L260.78,361.95 L262.60,361.44 L264.42,360.94 L266.23,360.45 L268.05,359.97 L269.87,359.50 L271.69,359.03 L273.51,358.58 L275.33,358.13 L277.15,357.69 L278.96,357.26 L280.78,356.84 L282.60,356.42 L284.42,356.02 L286.24,355.62 L288.06,355.22 L289.88,354.84 L291.69,354.46 L293.51,354.09 L295.33,353.72 L297.15,353.36 L298.97,353.01 L300.79,352.66 L302.61,352.32 L304.42,351.99 L306.24,351.66 L308.06,351.34 L309.88,351.02 L311.70,350.71 L313.52,350.40 L315.34,350.10 L317.15,349.81 L318.97,349.52 L320.79,349.23 L322.61,348.95 L324.43,348.68 L326.25,348.41 L328.07,348.14 L329.88,347.88 L331.70,347.62 L333.52,347.37 L335.34,347.12 L337.16,346.88 L338.98,346.64 L340.80,346.40 L342.61,346.17 L344.43,345.94 L346.25,345.72 L348.07,345.50 L349.89,345.28 L351.71,345.07 L353.53,344.86 L355.34,344.65 L357.16,344.45 L358.98,344.25 L360.80,344.06 L362.62,343.86 L364.44,343.67 L366.26,343.49 L368.07,343.30 L369.89,343.12 L371.71,342.94 L373.53,342.77 L375.35,342.60 L377.17,342.43 L378.99,342.26 L380.80,342.10 L382.62,341.94 L384.44,341.78 L386.26,341.62 L388.08,341.47 L389.90,341.32 L391.72,341.17 L393.53,341.02 L395.35,340.88 L397.17,340.74 L398.99,340.60 L400.81,340.46 L402.63,340.32 L404.45,340.19 L406.26,340.06 L408.08,339.93 L409.90,339.80 L411.72,339.68 L413.54,339.56 L415.36,339.44 L417.18,339.32 L418.99,339.20 L420.81,339.08 L422.63,338.97 L424.45,338.86 L426.27,338.75 L428.09,338.64 L429.91,338.53 L431.72,338.43 L433.54,338.33 L435.36,338.23 L437.18,338.13 L439.00,338.03 L440.82,337.93 L442.64,337.84 L444.45,337.74 L446.27,337.65 L448.09,337.56 L449.91,337.47 L451.73,337.38 L453.55,337.30 L455.37,337.21 L457.18,337.13 L459.00,337.05 L460.82,336.96 L462.64,336.88 L464.46,336.81 L466.28,336.73 L468.10,336.65 L469.91,336.58 L471.73,336.51 L473.55,336.43 L475.37,336.36 L477.19,336.29 L479.01,336.23 L480.83,336.16 L482.64,336.09 L484.46,336.03 L486.28,335.97 L488.10,335.90 L489.92,335.84 L491.74,335.78 L493.56,335.72 L495.37,335.66 L497.19,335.61 L499.01,335.55 L500.83,335.50 L502.65,335.44 L504.47,335.39 L506.29,335.34 L508.10,335.29 L509.92,335.24 L511.74,335.19 L513.56,335.14 L515.38,335.09 L517.20,335.05 L519.02,335.00 L520.83,334.96 L522.65,334.92 L524.47,334.87 L526.29,334.83 L528.11,334.79 L529.93,334.75 L531.74,334.71 L533.56,334.68 L535.38,334.64 L537.20,334.60 L539.02,334.57 L540.84,334.54 L542.66,334.50 L544.47,334.47 L546.29,334.44 L548.11,334.41 L549.93,334.38 L551.75,334.35 L553.57,334.32 L555.39,334.29 L557.20,334.27 L559.02,334.24 L560.84,334.22 L562.66,334.19 L564.48,334.17 L566.30,334.15 L568.12,334.13 L569.93,334.10 L571.75,334.08 L573.57,334.07 L575.39,334.05 L577.21,334.03 L579.03,334.01 L580.85,334.00 L582.66,333.98 L584.48,333.97 L586.30,333.95 L588.12,333.94 L589.94,333.93 L591.76,333.92 L593.58,333.91 L595.39,333.90 L597.21,333.89 L599.03,333.88 L600.85,333.87 L602.67,333.86 L604.49,333.86 L606.31,333.85 L608.12,333.85 L609.94,333.84 L611.76,333.84 L613.58,333.84 L615.40,333.84 L617.22,333.83 L619.04,333.83 L620.85,333.83 L622.67,333.84 L624.49,333.84 L626.31,333.84 L628.13,333.84 L629.95,333.85 L631.77,333.85 L633.58,333.86 L635.40,333.86 L637.22,333.87 L639.04,333.88 L640.86,333.89 L642.68,333.90 L644.50,333.91 L646.31,333.92 L648.13,333.93 L649.95,333.94 L651.77,333.95 L653.59,333.97 L655.41,333.98 L657.23,334.00 L659.04,334.01 L660.86,334.03 L662.68,334.04 L664.50,334.06" fill="none" stroke="#12308c" stroke-width="3.0" stroke-linejoin="round"/><path d="M120.75,422.59 L122.57,422.63 L124.39,422.56 L126.21,422.38 L128.02,422.08 L129.84,421.68 L131.66,421.18 L133.48,420.58 L135.30,419.89 L137.12,419.12 L138.94,418.26 L140.75,417.32 L142.57,416.31 L144.39,415.23 L146.21,414.08 L148.03,412.87 L149.85,411.61 L151.67,410.29 L153.48,408.93 L155.30,407.52 L157.12,406.08 L158.94,404.60 L160.76,403.09 L162.58,401.55 L164.40,399.98 L166.21,398.40 L168.03,396.80 L169.85,395.19 L171.67,393.58 L173.49,391.96 L175.31,390.34 L177.13,388.72 L178.94,387.12 L180.76,385.51 L182.58,383.91 L184.40,382.32 L186.22,380.74 L188.04,379.17 L189.86,377.61 L191.67,376.06 L193.49,374.51 L195.31,372.98 L197.13,371.47 L198.95,369.96 L200.77,368.46 L202.59,366.97 L204.40,365.49 L206.22,364.02 L208.04,362.57 L209.86,361.12 L211.68,359.68 L213.50,358.25 L215.32,356.82 L217.13,355.41 L218.95,354.01 L220.77,352.61 L222.59,351.22 L224.41,349.84 L226.23,348.47 L228.05,347.11 L229.86,345.75 L231.68,344.40 L233.50,343.06 L235.32,341.72 L237.14,340.39 L238.96,339.07 L240.78,337.75 L242.59,336.44 L244.41,335.14 L246.23,333.84 L248.05,332.55 L249.87,331.26 L251.69,329.98 L253.51,328.71 L255.32,327.44 L257.14,326.17 L258.96,324.91 L260.78,323.65 L262.60,322.40 L264.42,321.15 L266.23,319.90 L268.05,318.66 L269.87,317.43 L271.69,316.19 L273.51,314.96 L275.33,313.73 L277.15,312.51 L278.96,311.29 L280.78,310.07 L282.60,308.86 L284.42,307.65 L286.24,306.44 L288.06,305.24 L289.88,304.04 L291.69,302.84 L293.51,301.65 L295.33,300.46 L297.15,299.28 L298.97,298.10 L300.79,296.92 L302.61,295.74 L304.42,294.57 L306.24,293.41 L308.06,292.24 L309.88,291.08 L311.70,289.93 L313.52,288.78 L315.34,287.63 L317.15,286.49 L318.97,285.35 L320.79,284.21 L322.61,283.08 L324.43,281.95 L326.25,280.82 L328.07,279.70 L329.88,278.59 L331.70,277.47 L333.52,276.37 L335.34,275.26 L337.16,274.16 L338.98,273.06 L340.80,271.97 L342.61,270.88 L344.43,269.80 L346.25,268.72 L348.07,267.64 L349.89,266.57 L351.71,265.51 L353.53,264.44 L355.34,263.38 L357.16,262.33 L358.98,261.28 L360.80,260.23 L362.62,259.19 L364.44,258.15 L366.26,257.12 L368.07,256.09 L369.89,255.07 L371.71,254.05 L373.53,253.03 L375.35,252.02 L377.17,251.01 L378.99,250.01 L380.80,249.01 L382.62,248.02 L384.44,247.03 L386.26,246.05 L388.08,245.07 L389.90,244.09 L391.72,243.12 L393.53,242.16 L395.35,241.20 L397.17,240.24 L398.99,239.29 L400.81,238.34 L402.63,237.40 L404.45,236.46 L406.26,235.53 L408.08,234.60 L409.90,233.68 L411.72,232.76 L413.54,231.85 L415.36,230.94 L417.18,230.04 L418.99,229.14 L420.81,228.24 L422.63,227.36 L424.45,226.47 L426.27,225.59 L428.09,224.72 L429.91,223.85 L431.72,222.99 L433.54,222.13 L435.36,221.27 L437.18,220.43 L439.00,219.58 L440.82,218.74 L442.64,217.91 L444.45,217.08 L446.27,216.26 L448.09,215.44 L449.91,214.63 L451.73,213.82 L453.55,213.02 L455.37,212.23 L457.18,211.43 L459.00,210.65 L460.82,209.87 L462.64,209.09 L464.46,208.32 L466.28,207.56 L468.10,206.80 L469.91,206.05 L471.73,205.30 L473.55,204.56 L475.37,203.82 L477.19,203.09 L479.01,202.36 L480.83,201.64 L482.64,200.92 L484.46,200.22 L486.28,199.51 L488.10,198.81 L489.92,198.12 L491.74,197.43 L493.56,196.75 L495.37,196.08 L497.19,195.41 L499.01,194.74 L500.83,194.09 L502.65,193.43 L504.47,192.79 L506.29,192.15 L508.10,191.51 L509.92,190.88 L511.74,190.26 L513.56,189.64 L515.38,189.03 L517.20,188.43 L519.02,187.83 L520.83,187.23 L522.65,186.64 L524.47,186.06 L526.29,185.49 L528.11,184.92 L529.93,184.35 L531.74,183.80 L533.56,183.25 L535.38,182.70 L537.20,182.16 L539.02,181.63 L540.84,181.10 L542.66,180.58 L544.47,180.07 L546.29,179.56 L548.11,179.06 L549.93,178.56 L551.75,178.07 L553.57,177.59 L555.39,177.11 L557.20,176.64 L559.02,176.18 L560.84,175.72 L562.66,175.27 L564.48,174.83 L566.30,174.39 L568.12,173.96 L569.93,173.53 L571.75,173.12 L573.57,172.70 L575.39,172.30 L577.21,171.90 L579.03,171.51 L580.85,171.12 L582.66,170.74 L584.48,170.37 L586.30,170.00 L588.12,169.64 L589.94,169.29 L591.76,168.95 L593.58,168.61 L595.39,168.27 L597.21,167.95 L599.03,167.63 L600.85,167.32 L602.67,167.01 L604.49,166.71 L606.31,166.42 L608.12,166.14 L609.94,165.86 L611.76,165.59 L613.58,165.33 L615.40,165.07 L617.22,164.82 L619.04,164.58 L620.85,164.34 L622.67,164.11 L624.49,163.89 L626.31,163.68 L628.13,163.47 L629.95,163.27 L631.77,163.08 L633.58,162.89 L635.40,162.71 L637.22,162.54 L639.04,162.38 L640.86,162.22 L642.68,162.07 L644.50,161.93 L646.31,161.79 L648.13,161.66 L649.95,161.54 L651.77,161.43 L653.59,161.32 L655.41,161.22 L657.23,161.13 L659.04,161.05 L660.86,160.97 L662.68,160.90 L664.50,160.84" fill="none" stroke="#da141e" stroke-width="3.4" stroke-linejoin="round"/></g><g stroke="#da141e" stroke-width="2.2" fill="none"><path d="M371.9,290.9 H404.5 M388.6,265.9 V316.2 M371.9,286.09999999999997 V295.7 M404.5,286.09999999999997 V295.7 M383.8,265.9 H393.40000000000003 M383.8,316.2 H393.40000000000003"/><path d="M388.6,285.30 L393.60,293.60 L383.60,293.60 Z" fill="#fff" stroke-width="2.0" stroke-linejoin="miter"/></g><g stroke="#da141e" stroke-width="2.2" fill="none"><path d="M464,223.3 H513.3 M488.5,176 V270.4 M464,218.5 V228.10000000000002 M513.3,218.5 V228.10000000000002 M483.7,176 H493.3 M483.7,270.4 H493.3"/><path d="M488.5,217.70 L493.50,226.00 L483.50,226.00 Z" fill="#fff" stroke-width="2.0" stroke-linejoin="miter"/></g><g stroke="#da141e" stroke-width="2.2" fill="none"><path d="M550.1,101.6 H597.8 M574.1,23.6 V179.6 M550.1,96.8 V106.39999999999999 M597.8,96.8 V106.39999999999999 M569.3000000000001,23.6 H578.9 M569.3000000000001,179.6 H578.9"/><path d="M574.1,96.00 L579.10,104.30 L569.10,104.30 Z" fill="#fff" stroke-width="2.0" stroke-linejoin="miter"/></g><g stroke="#12308c" stroke-width="2.2" fill="none"><path d="M379.6,357.8 H411.8 M395.6,339.2 V376.4 M379.6,353.0 V362.6 M411.8,353.0 V362.6 M390.8,339.2 H400.40000000000003 M390.8,376.4 H400.40000000000003"/><circle cx="395.6" cy="357.8" r="5.2" fill="#fff" stroke-width="2.5"/></g><g stroke="#12308c" stroke-width="2.2" fill="none"><path d="M454.3,351.5 H520.4 M487.4,326.4 V376.1 M454.3,346.7 V356.3 M520.4,346.7 V356.3 M482.59999999999997,326.4 H492.2 M482.59999999999997,376.1 H492.2"/><circle cx="487.4" cy="351.5" r="5.2" fill="#fff" stroke-width="2.5"/></g><g stroke="#12308c" stroke-width="2.2" fill="none"><path d="M550.1,333.0 H595.6 M572.8,297.5 V367.3 M550.1,328.2 V337.8 M595.6,328.2 V337.8 M568.0,297.5 H577.5999999999999 M568.0,367.3 H577.5999999999999"/><circle cx="572.8" cy="333.0" r="5.2" fill="#fff" stroke-width="2.5"/></g><rect x="120.75" y="15.75" width="543.75" height="407.15" fill="none" stroke="#000" stroke-width="2.4"/><path d="M143.41,421.7 V419.50 M143.41,16.95 V19.15 M166.06,421.7 V418.50 M166.06,16.95 V20.15 M188.72,421.7 V419.50 M188.72,16.95 V19.15 M211.38,421.7 V418.50 M211.38,16.95 V20.15 M234.03,421.7 V419.50 M234.03,16.95 V19.15 M256.69,421.7 V418.50 M256.69,16.95 V20.15 M279.34,421.7 V419.50 M279.34,16.95 V19.15 M302.00,421.7 V418.50 M302.00,16.95 V20.15 M324.66,421.7 V419.50 M324.66,16.95 V19.15 M347.31,421.7 V418.50 M347.31,16.95 V20.15 M369.97,421.7 V419.50 M369.97,16.95 V19.15 M392.62,421.7 V418.50 M392.62,16.95 V20.15 M415.28,421.7 V419.50 M415.28,16.95 V19.15 M437.94,421.7 V418.50 M437.94,16.95 V20.15 M460.59,421.7 V419.50 M460.59,16.95 V19.15 M483.25,421.7 V418.50 M483.25,16.95 V20.15 M505.91,421.7 V419.50 M505.91,16.95 V19.15 M528.56,421.7 V418.50 M528.56,16.95 V20.15 M551.22,421.7 V419.50 M551.22,16.95 V19.15 M573.88,421.7 V418.50 M573.88,16.95 V20.15 M596.53,421.7 V419.50 M596.53,16.95 V19.15 M619.19,421.7 V418.50 M619.19,16.95 V20.15 M641.84,421.7 V419.50 M641.84,16.95 V19.15 M121.95,402.54 H124.55 M663.3,402.54 H660.70 M121.95,382.19 H124.55 M663.3,382.19 H660.70 M121.95,361.83 H124.55 M663.3,361.83 H660.70 M121.95,341.47 H124.55 M663.3,341.47 H660.70 M121.95,321.11 H124.55 M663.3,321.11 H660.70 M121.95,300.75 H124.55 M663.3,300.75 H660.70 M121.95,280.40 H124.55 M663.3,280.40 H660.70 M121.95,260.04 H124.55 M663.3,260.04 H660.70 M121.95,239.68 H124.55 M663.3,239.68 H660.70 M121.95,219.32 H124.55 M663.3,219.32 H660.70 M121.95,198.97 H124.55 M663.3,198.97 H660.70 M121.95,178.61 H124.55 M663.3,178.61 H660.70 M121.95,158.25 H124.55 M663.3,158.25 H660.70 M121.95,137.89 H124.55 M663.3,137.89 H660.70 M121.95,117.54 H124.55 M663.3,117.54 H660.70 M121.95,97.18 H124.55 M663.3,97.18 H660.70 M121.95,76.82 H124.55 M663.3,76.82 H660.70 M121.95,56.46 H124.55 M663.3,56.46 H660.70 M121.95,36.11 H124.55 M663.3,36.11 H660.70" stroke="#000" stroke-width="1.9" fill="none"/><g font-family="Liberation Sans, sans-serif" fill="#000"><text x="198.32" y="447.60" font-size="23.3">2</text><text x="211.28" y="447.60" font-size="23.3">0</text><text x="288.95" y="447.60" font-size="23.3">4</text><text x="301.90" y="447.60" font-size="23.3">0</text><text x="379.57" y="447.60" font-size="23.3">6</text><text x="392.52" y="447.60" font-size="23.3">0</text><text x="470.20" y="447.60" font-size="23.3">8</text><text x="483.15" y="447.60" font-size="23.3">0</text><path d="M763,0 L583,0 L583,1147 Q518,1085 412,1023 Q306,961 221,930 L221,1104 Q374,1176 488,1278 Q602,1380 649,1476 L763,1476 Z" transform="translate(554.34,447.60) scale(0.01138,-0.01138)" fill="#000"/><text x="567.30" y="447.60" font-size="23.3">0</text><text x="580.25" y="447.60" font-size="23.3">0</text><path d="M763,0 L583,0 L583,1147 Q518,1085 412,1023 Q306,961 221,930 L221,1104 Q374,1176 488,1278 Q602,1380 649,1476 L763,1476 Z" transform="translate(644.97,447.60) scale(0.01138,-0.01138)" fill="#000"/><text x="657.92" y="447.60" font-size="23.3">2</text><text x="670.88" y="447.60" font-size="23.3">0</text></g><g font-family="Liberation Sans, sans-serif" fill="#000"><text x="53.35" y="25.00" font-size="23.3">2</text><path d="M763,0 L583,0 L583,1147 Q518,1085 412,1023 Q306,961 221,930 L221,1104 Q374,1176 488,1278 Q602,1380 649,1476 L763,1476 Z" transform="translate(80.55,25.00) scale(0.01138,-0.01138)" fill="#000"/><text x="93.50" y="25.00" font-size="23.3">0</text><text x="107.00" y="15.00" font-size="16.5">5</text><path d="M70.45,16.15 L76.65,21.75 M70.45,21.75 L76.65,16.15" stroke="#000" stroke-width="1.8" fill="none"/><path d="M763,0 L583,0 L583,1147 Q518,1085 412,1023 Q306,961 221,930 L221,1104 Q374,1176 488,1278 Q602,1380 649,1476 L763,1476 Z" transform="translate(33.91,126.24) scale(0.01138,-0.01138)" fill="#000"/><text x="46.87" y="126.24" font-size="23.3">.</text><text x="53.35" y="126.24" font-size="23.3">5</text><path d="M763,0 L583,0 L583,1147 Q518,1085 412,1023 Q306,961 221,930 L221,1104 Q374,1176 488,1278 Q602,1380 649,1476 L763,1476 Z" transform="translate(80.55,126.24) scale(0.01138,-0.01138)" fill="#000"/><text x="93.50" y="126.24" font-size="23.3">0</text><text x="107.00" y="115.94" font-size="16.5">5</text><path d="M70.45,117.94 L76.65,123.54 M70.45,123.54 L76.65,117.94" stroke="#000" stroke-width="1.8" fill="none"/><path d="M763,0 L583,0 L583,1147 Q518,1085 412,1023 Q306,961 221,930 L221,1104 Q374,1176 488,1278 Q602,1380 649,1476 L763,1476 Z" transform="translate(53.35,228.02) scale(0.01138,-0.01138)" fill="#000"/><path d="M763,0 L583,0 L583,1147 Q518,1085 412,1023 Q306,961 221,930 L221,1104 Q374,1176 488,1278 Q602,1380 649,1476 L763,1476 Z" transform="translate(80.55,228.02) scale(0.01138,-0.01138)" fill="#000"/><text x="93.50" y="228.02" font-size="23.3">0</text><text x="107.00" y="217.72" font-size="16.5">5</text><path d="M70.45,219.72 L76.65,225.32 M70.45,225.32 L76.65,219.72" stroke="#000" stroke-width="1.8" fill="none"/><text x="53.35" y="329.81" font-size="23.3">5</text><path d="M763,0 L583,0 L583,1147 Q518,1085 412,1023 Q306,961 221,930 L221,1104 Q374,1176 488,1278 Q602,1380 649,1476 L763,1476 Z" transform="translate(80.55,329.81) scale(0.01138,-0.01138)" fill="#000"/><text x="93.50" y="329.81" font-size="23.3">0</text><text x="107.00" y="319.51" font-size="16.5">4</text><path d="M70.45,321.51 L76.65,327.11 M70.45,327.11 L76.65,321.51" stroke="#000" stroke-width="1.8" fill="none"/><text x="103.80" y="431.90" font-size="23.3">0</text></g><text x="393.2" y="481.5" text-anchor="middle" font-family="Liberation Sans, sans-serif" font-size="24.1" fill="#000">Ion Temperature (keV)</text><text transform="translate(21.1,220) rotate(-90)" x="0" y="0" text-anchor="middle" font-family="Liberation Sans, sans-serif" font-size="23.6" fill="#000">Neutron yield (n/shot)</text><rect x="131.7" y="27.6" width="253" height="80.7" fill="#fff" stroke="#000" stroke-width="1.9"/><g stroke="#da141e" stroke-width="1.45" fill="none"><path d="M141.1,41.50 H156.5 M148.8,34.20 V48.80 M141.1,39.10 V43.90 M156.5,39.10 V43.90 M146.40,34.20 H151.20 M146.40,48.80 H151.20"/><path d="M148.8,38.00 L152.20,43.20 L145.40,43.20 Z" fill="#fff" stroke-width="1.4"/></g><text x="162.6" y="45.80" font-family="Liberation Sans, sans-serif" font-size="13.2" word-spacing="1" fill="#3c3c3c">Measured neutron yield with CD<tspan font-size="7.2" dy="1">2</tspan></text><path d="M141.1,59.90 H156.3" stroke="#da141e" stroke-width="3.6"/><text x="162.6" y="63.55" font-family="Liberation Sans, sans-serif" font-size="13.2" word-spacing="1" fill="#3c3c3c">Expected neutron yield with CD<tspan font-size="7.2" dy="1">2</tspan></text><g stroke="#1a2a80" stroke-width="1.45" fill="none"><path d="M141.1,77.90 H156.5 M148.8,70.60 V85.20 M141.1,75.50 V80.30 M156.5,75.50 V80.30 M146.40,70.60 H151.20 M146.40,85.20 H151.20"/><circle cx="148.8" cy="77.90" r="2.7" fill="#fff" stroke-width="1.5"/></g><text x="162.6" y="81.30" font-family="Liberation Sans, sans-serif" font-size="13.2" word-spacing="1" fill="#3c3c3c">Measured neutron yield without CD<tspan font-size="7.2" dy="1">2</tspan></text><path d="M141.1,96.05 H156.3" stroke="#1a2a80" stroke-width="3.6"/><text x="162.6" y="99.05" font-family="Liberation Sans, sans-serif" font-size="13.2" word-spacing="1" fill="#3c3c3c">Expected neutron yield without CD<tspan font-size="7.2" dy="1">2</tspan></text></svg>
</body></html>
